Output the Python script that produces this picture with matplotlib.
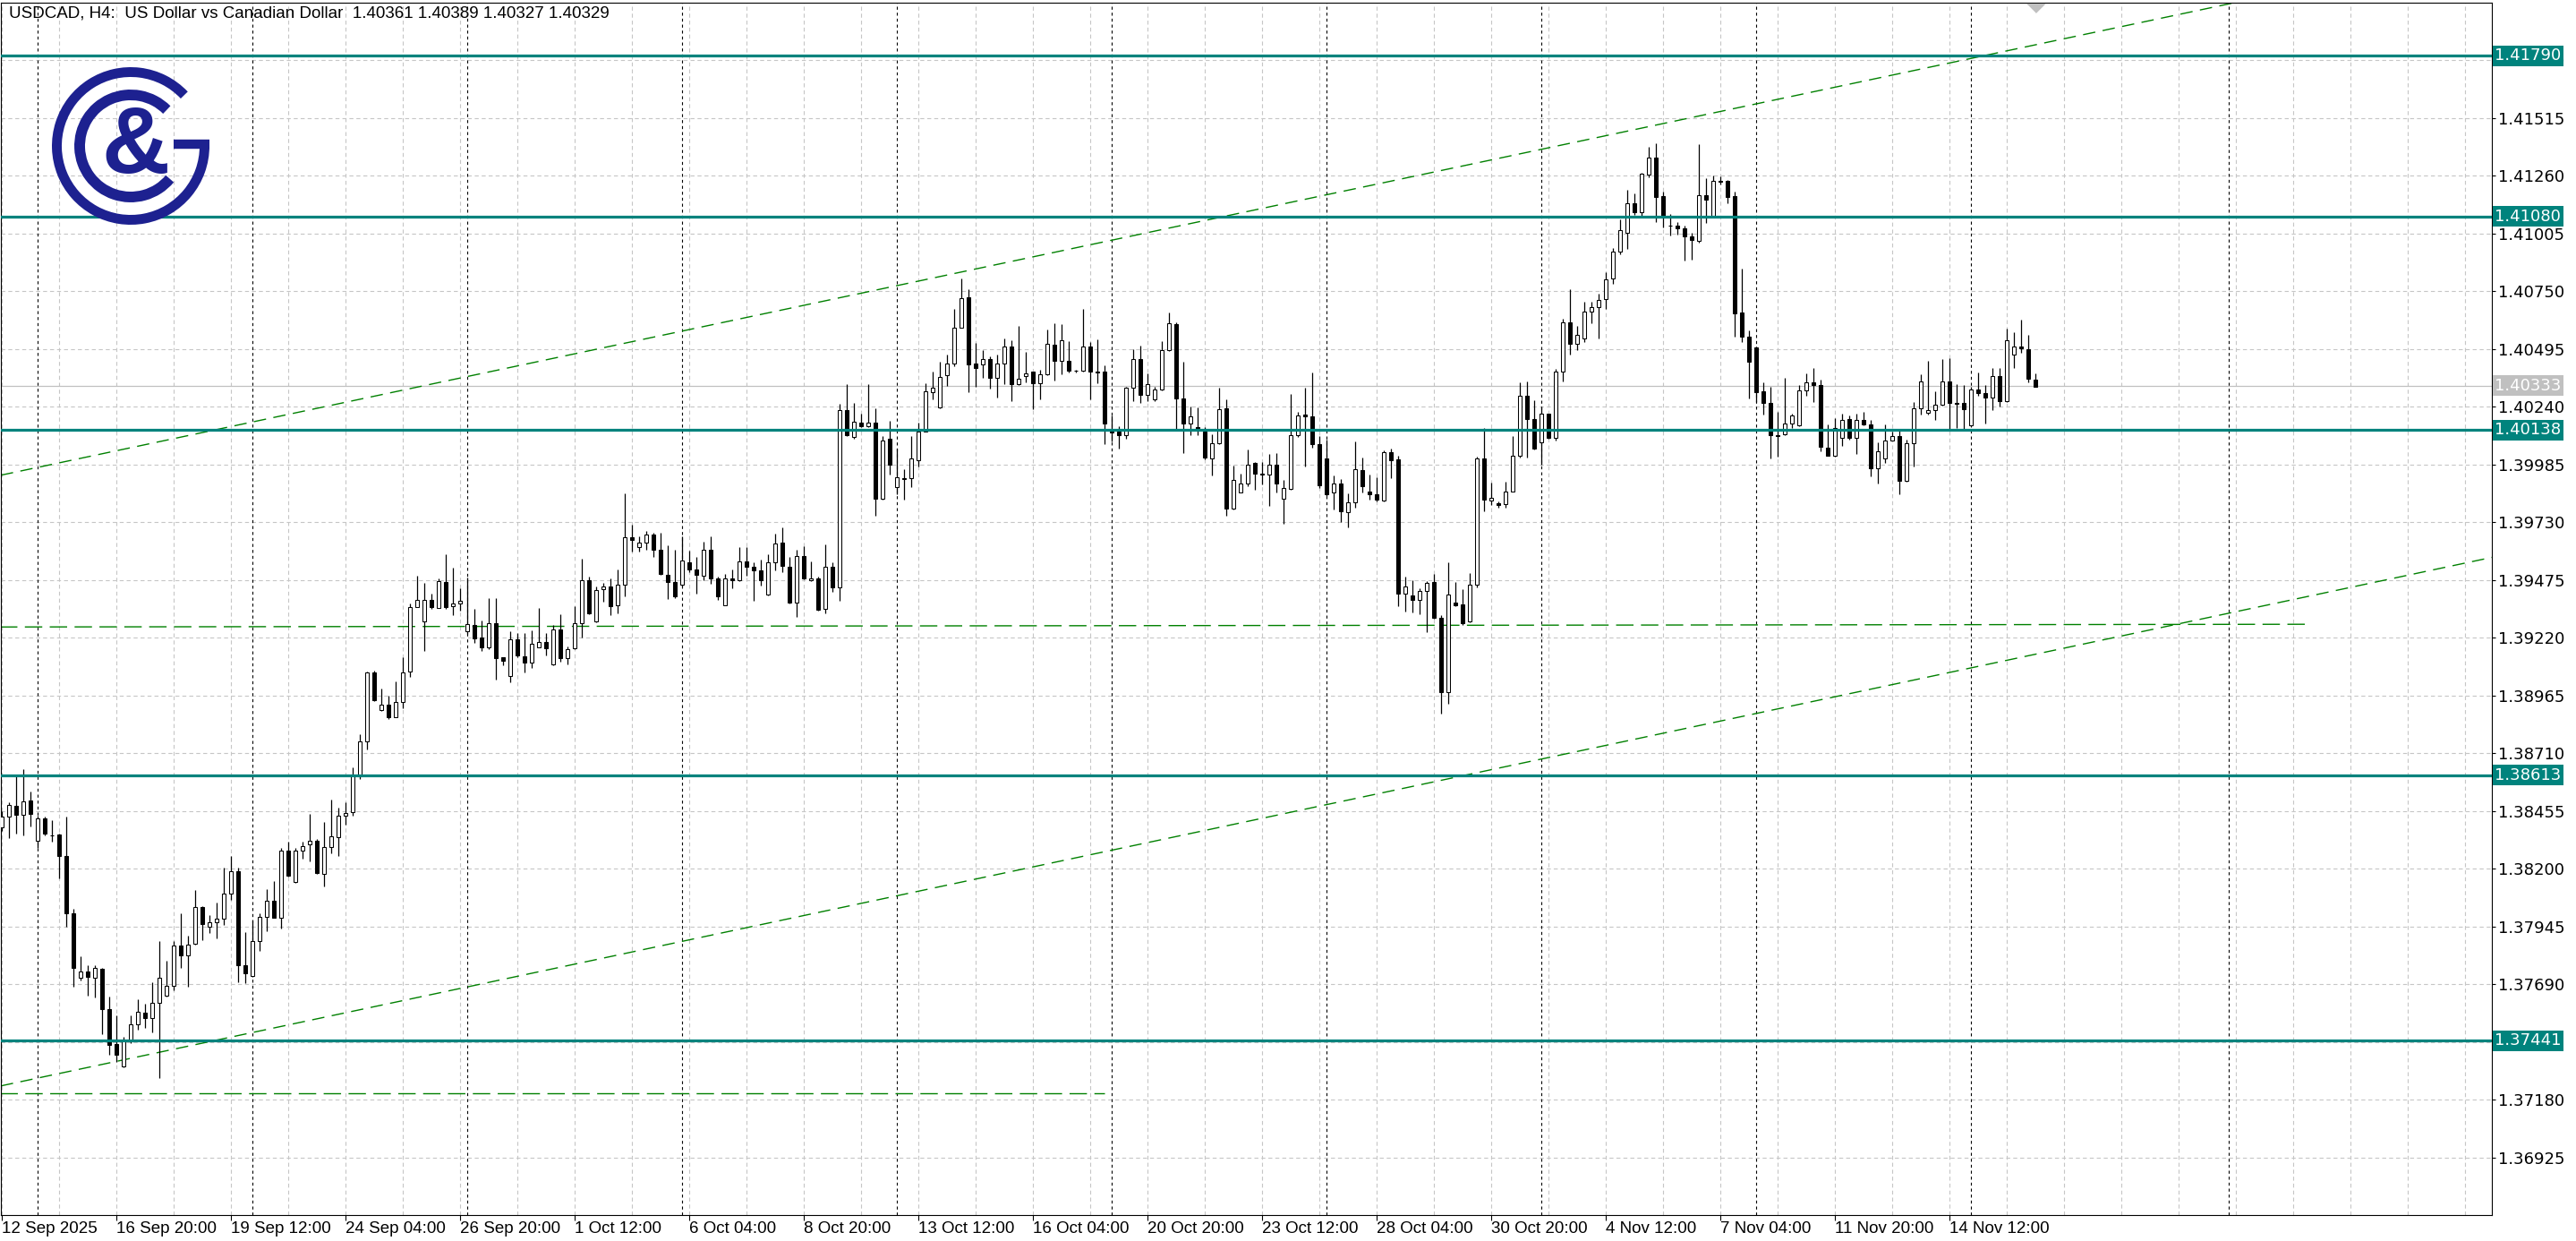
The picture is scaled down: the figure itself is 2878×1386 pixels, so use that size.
import matplotlib
matplotlib.use("Agg")
import matplotlib.pyplot as plt
from matplotlib.patches import Arc
from matplotlib.transforms import blended_transform_factory
import numpy as np

W, H = 2878, 1386
DPI = 100

title = "USDCAD, H4:  US Dollar vs Canadian Dollar  1.40361 1.40389 1.40327 1.40329"

# H4 candles (bar 0 = 12 Sep 2025 04:00)
opens = [
    1.38383, 1.38431, 1.38479, 1.38439, 1.38504, 1.38324, 1.38423, 1.38349, 1.38353, 1.38259,
    1.38003, 1.37720, 1.37747, 1.37720, 1.37760, 1.37580, 1.37425, 1.37330, 1.37437, 1.37514,
    1.37565, 1.37540, 1.37609, 1.37641, 1.37685, 1.37861, 1.37819, 1.37871, 1.38030, 1.37945,
    1.37963, 1.37980, 1.38091, 1.38190, 1.37775, 1.37727, 1.37880, 1.37989, 1.38058, 1.37986,
    1.38282, 1.38142, 1.38282, 1.38309, 1.38324, 1.38177, 1.38296, 1.38339, 1.38435, 1.38450,
    1.38607, 1.38764, 1.39066, 1.38900, 1.38927, 1.38871, 1.38936, 1.39070, 1.39356, 1.39291,
    1.39389, 1.39352, 1.39467, 1.39358, 1.39370, 1.39251, 1.39276, 1.39223, 1.39177, 1.39286,
    1.39133, 1.39051, 1.39215, 1.39138, 1.39110, 1.39177, 1.39203, 1.39103, 1.39259, 1.39130,
    1.39174, 1.39283, 1.39474, 1.39294, 1.39434, 1.39446, 1.39363, 1.39456, 1.39663, 1.39619,
    1.39640, 1.39676, 1.39610, 1.39499, 1.39467, 1.39456, 1.39555, 1.39523, 1.39496, 1.39610,
    1.39483, 1.39363, 1.39483, 1.39476, 1.39559, 1.39534, 1.39516, 1.39410, 1.39554, 1.39640,
    1.39534, 1.39374, 1.39580, 1.39474, 1.39483, 1.39347, 1.39532, 1.39443, 1.40225, 1.40106,
    1.40171, 1.40153, 1.40169, 1.39833, 1.40098, 1.39887, 1.39927, 1.39927, 1.40006, 1.40132,
    1.40306, 1.40236, 1.40378, 1.40433, 1.40591, 1.40722, 1.40431, 1.40426, 1.40449, 1.40366,
    1.40430, 1.40508, 1.40339, 1.40376, 1.40394, 1.40343, 1.40383, 1.40513, 1.40444, 1.40442,
    1.40398, 1.40398, 1.40506, 1.40394, 1.40396, 1.40132, 1.40132, 1.40113, 1.40323, 1.40451,
    1.40291, 1.40274, 1.40316, 1.40490, 1.40605, 1.40276, 1.40168, 1.40149, 1.40132, 1.40013,
    1.40079, 1.40233, 1.39790, 1.39863, 1.39903, 1.39991, 1.39945, 1.39939, 1.39985, 1.39833,
    1.39879, 1.40113, 1.40205, 1.40197, 1.40076, 1.40014, 1.39860, 1.39902, 1.39774, 1.39818,
    1.39962, 1.39866, 1.39853, 1.39827, 1.40041, 1.40007, 1.39416, 1.39406, 1.39389, 1.39426,
    1.39466, 1.39310, 1.38979, 1.39377, 1.39367, 1.39291, 1.39456, 1.40014, 1.39827, 1.39814,
    1.39811, 1.39866, 1.40024, 1.40287, 1.40185, 1.40083, 1.40208, 1.40103, 1.40397, 1.40614,
    1.40518, 1.40541, 1.40660, 1.40680, 1.40715, 1.40805, 1.40926, 1.41009, 1.41139, 1.41101,
    1.41264, 1.41341, 1.41170, 1.41040, 1.41040, 1.41027, 1.40992, 1.40972, 1.41173, 1.41084,
    1.41236, 1.41238, 1.41170, 1.40656, 1.40548, 1.40502, 1.40307, 1.40257, 1.40114, 1.40120,
    1.40168, 1.40158, 1.40314, 1.40349, 1.40336, 1.40060, 1.40024, 1.40103, 1.40185, 1.40103,
    1.40182, 1.40162, 1.39968, 1.40013, 1.40093, 1.40110, 1.39912, 1.40080, 1.40235, 1.40213,
    1.40226, 1.40248, 1.40353, 1.40257, 1.40257, 1.40158, 1.40316, 1.40301, 1.40281, 1.40377,
    1.40265, 1.40472, 1.40505, 1.40496, 1.40361,
]
highs = [
    1.38454, 1.38496, 1.38607, 1.38640, 1.38540, 1.38435, 1.38431, 1.38416, 1.38355, 1.38431,
    1.38024, 1.37813, 1.37775, 1.37775, 1.37762, 1.37636, 1.37555, 1.37460, 1.37552, 1.37626,
    1.37603, 1.37699, 1.37880, 1.37794, 1.37880, 1.38005, 1.37905, 1.38106, 1.38037, 1.37995,
    1.38052, 1.38205, 1.38257, 1.38205, 1.37922, 1.37972, 1.38005, 1.38110, 1.38148, 1.38294,
    1.38320, 1.38292, 1.38320, 1.38444, 1.38334, 1.38406, 1.38506, 1.38469, 1.38496, 1.38649,
    1.38794, 1.39070, 1.39074, 1.38995, 1.38966, 1.39028, 1.39133, 1.39372, 1.39496, 1.39462,
    1.39414, 1.39483, 1.39588, 1.39529, 1.39439, 1.39486, 1.39349, 1.39295, 1.39396, 1.39394,
    1.39133, 1.39248, 1.39242, 1.39242, 1.39253, 1.39350, 1.39241, 1.39276, 1.39323, 1.39183,
    1.39360, 1.39570, 1.39492, 1.39446, 1.39463, 1.39483, 1.39523, 1.39859, 1.39720, 1.39667,
    1.39692, 1.39683, 1.39683, 1.39627, 1.39610, 1.39669, 1.39606, 1.39576, 1.39643, 1.39669,
    1.39489, 1.39503, 1.39520, 1.39619, 1.39619, 1.39552, 1.39566, 1.39589, 1.39680, 1.39709,
    1.39576, 1.39607, 1.39623, 1.39556, 1.39489, 1.39632, 1.39552, 1.40252, 1.40342, 1.40258,
    1.40209, 1.40342, 1.40232, 1.40109, 1.40180, 1.40056, 1.39963, 1.40109, 1.40172, 1.40345,
    1.40395, 1.40439, 1.40471, 1.40671, 1.40806, 1.40758, 1.40522, 1.40489, 1.40462, 1.40469,
    1.40540, 1.40532, 1.40599, 1.40481, 1.40394, 1.40402, 1.40580, 1.40607, 1.40605, 1.40530,
    1.40405, 1.40672, 1.40527, 1.40536, 1.40422, 1.40201, 1.40155, 1.40329, 1.40493, 1.40510,
    1.40388, 1.40329, 1.40530, 1.40658, 1.40611, 1.40438, 1.40241, 1.40238, 1.40149, 1.40118,
    1.40323, 1.40271, 1.39982, 1.39945, 1.40050, 1.39998, 1.39998, 1.40030, 1.40034, 1.39919,
    1.40297, 1.40218, 1.40323, 1.40392, 1.40112, 1.40096, 1.39935, 1.39922, 1.39857, 1.40086,
    1.40015, 1.39941, 1.39929, 1.40048, 1.40057, 1.40024, 1.39492, 1.39475, 1.39439, 1.39472,
    1.39502, 1.39321, 1.39555, 1.39465, 1.39436, 1.39508, 1.40018, 1.40146, 1.39906, 1.39823,
    1.39910, 1.40112, 1.40347, 1.40353, 1.40270, 1.40241, 1.40211, 1.40406, 1.40630, 1.40759,
    1.40599, 1.40702, 1.40702, 1.40741, 1.40834, 1.40939, 1.41067, 1.41196, 1.41183, 1.41272,
    1.41387, 1.41404, 1.41189, 1.41093, 1.41055, 1.41038, 1.41008, 1.41400, 1.41248, 1.41262,
    1.41258, 1.41242, 1.41189, 1.40851, 1.40577, 1.40505, 1.40349, 1.40327, 1.40218, 1.40366,
    1.40208, 1.40336, 1.40386, 1.40412, 1.40360, 1.40162, 1.40189, 1.40208, 1.40202, 1.40208,
    1.40218, 1.40182, 1.40083, 1.40162, 1.40132, 1.40136, 1.40097, 1.40261, 1.40382, 1.40443,
    1.40307, 1.40452, 1.40456, 1.40340, 1.40336, 1.40330, 1.40393, 1.40336, 1.40410, 1.40410,
    1.40584, 1.40570, 1.40623, 1.40557, 1.40389,
]
lows = [
    1.38368, 1.38336, 1.38355, 1.38349, 1.38387, 1.38292, 1.38349, 1.38320, 1.38158, 1.37944,
    1.37678, 1.37708, 1.37641, 1.37632, 1.37469, 1.37380, 1.37349, 1.37326, 1.37431, 1.37492,
    1.37498, 1.37479, 1.37278, 1.37636, 1.37664, 1.37762, 1.37680, 1.37867, 1.37884, 1.37919,
    1.37894, 1.37953, 1.38062, 1.37699, 1.37697, 1.37722, 1.37838, 1.37924, 1.37984, 1.37938,
    1.38167, 1.38139, 1.38244, 1.38234, 1.38177, 1.38123, 1.38269, 1.38257, 1.38397, 1.38435,
    1.38597, 1.38727, 1.38941, 1.38898, 1.38860, 1.38869, 1.38909, 1.39047, 1.39354, 1.39161,
    1.39348, 1.39350, 1.39348, 1.39320, 1.39339, 1.39238, 1.39196, 1.39161, 1.39171, 1.39035,
    1.39100, 1.39024, 1.39133, 1.39066, 1.39089, 1.39177, 1.39143, 1.39099, 1.39116, 1.39103,
    1.39172, 1.39223, 1.39323, 1.39290, 1.39379, 1.39319, 1.39330, 1.39403, 1.39599, 1.39599,
    1.39610, 1.39576, 1.39499, 1.39390, 1.39397, 1.39446, 1.39509, 1.39416, 1.39476, 1.39460,
    1.39387, 1.39363, 1.39440, 1.39470, 1.39494, 1.39383, 1.39450, 1.39406, 1.39516, 1.39510,
    1.39370, 1.39312, 1.39480, 1.39470, 1.39342, 1.39330, 1.39423, 1.39383, 1.40111, 1.40098,
    1.40149, 1.40149, 1.39759, 1.39829, 1.39942, 1.39853, 1.39829, 1.39887, 1.39976, 1.40129,
    1.40273, 1.40233, 1.40333, 1.40418, 1.40589, 1.40305, 1.40329, 1.40369, 1.40319, 1.40282,
    1.40339, 1.40267, 1.40336, 1.40348, 1.40228, 1.40271, 1.40379, 1.40356, 1.40383, 1.40392,
    1.40392, 1.40394, 1.40274, 1.40346, 1.40076, 1.40086, 1.40054, 1.40100, 1.40267, 1.40258,
    1.40267, 1.40267, 1.40313, 1.40488, 1.40142, 1.40034, 1.40116, 1.40116, 1.40009, 1.39938,
    1.40076, 1.39761, 1.39788, 1.39862, 1.39888, 1.39873, 1.39897, 1.39801, 1.39862, 1.39722,
    1.39875, 1.40107, 1.39978, 1.40061, 1.39882, 1.39847, 1.39788, 1.39731, 1.39708, 1.39794,
    1.39860, 1.39829, 1.39823, 1.39824, 1.39925, 1.39360, 1.39337, 1.39334, 1.39325, 1.39245,
    1.39304, 1.38887, 1.38929, 1.39360, 1.39278, 1.39288, 1.39442, 1.39778, 1.39807, 1.39794,
    1.39794, 1.39864, 1.40017, 1.40015, 1.40052, 1.39985, 1.40099, 1.40090, 1.40351, 1.40472,
    1.40489, 1.40524, 1.40610, 1.40540, 1.40672, 1.40781, 1.40913, 1.40936, 1.41088, 1.41084,
    1.41255, 1.41055, 1.41031, 1.40998, 1.41001, 1.40886, 1.40890, 1.40965, 1.41051, 1.41082,
    1.41222, 1.41137, 1.40550, 1.40524, 1.40277, 1.40261, 1.40205, 1.40011, 1.40018, 1.40116,
    1.40145, 1.40156, 1.40287, 1.40261, 1.40044, 1.40022, 1.40021, 1.40066, 1.40097, 1.40031,
    1.40158, 1.39932, 1.39902, 1.39991, 1.40090, 1.39853, 1.39908, 1.39978, 1.40205, 1.40205,
    1.40182, 1.40244, 1.40143, 1.40145, 1.40143, 1.40156, 1.40287, 1.40165, 1.40224, 1.40241,
    1.40261, 1.40412, 1.40478, 1.40349, 1.40327,
]
closes = [
    1.38431, 1.38483, 1.38439, 1.38500, 1.38443, 1.38425, 1.38355, 1.38347, 1.38259, 1.38003,
    1.37762, 1.37747, 1.37722, 1.37762, 1.37580, 1.37422, 1.37380, 1.37437, 1.37514, 1.37571,
    1.37540, 1.37609, 1.37720, 1.37685, 1.37861, 1.37819, 1.37865, 1.38030, 1.37957, 1.37966,
    1.37980, 1.38091, 1.38190, 1.37775, 1.37741, 1.37880, 1.37989, 1.38058, 1.37986, 1.38282,
    1.38171, 1.38282, 1.38301, 1.38324, 1.38183, 1.38296, 1.38343, 1.38435, 1.38448, 1.38607,
    1.38764, 1.39066, 1.38945, 1.38927, 1.38871, 1.38938, 1.39066, 1.39356, 1.39389, 1.39389,
    1.39356, 1.39471, 1.39356, 1.39370, 1.39385, 1.39280, 1.39219, 1.39177, 1.39286, 1.39129,
    1.39119, 1.39215, 1.39142, 1.39110, 1.39194, 1.39203, 1.39174, 1.39259, 1.39130, 1.39170,
    1.39283, 1.39474, 1.39327, 1.39430, 1.39446, 1.39359, 1.39456, 1.39663, 1.39653, 1.39640,
    1.39676, 1.39607, 1.39503, 1.39467, 1.39403, 1.39560, 1.39520, 1.39500, 1.39610, 1.39483,
    1.39403, 1.39483, 1.39476, 1.39559, 1.39532, 1.39516, 1.39474, 1.39554, 1.39636, 1.39536,
    1.39374, 1.39580, 1.39483, 1.39483, 1.39346, 1.39532, 1.39443, 1.40225, 1.40113, 1.40173,
    1.40153, 1.40169, 1.39833, 1.40092, 1.39985, 1.39929, 1.39920, 1.40012, 1.40132, 1.40309,
    1.40326, 1.40373, 1.40433, 1.40591, 1.40718, 1.40429, 1.40411, 1.40449, 1.40369, 1.40433,
    1.40508, 1.40339, 1.40365, 1.40389, 1.40343, 1.40383, 1.40517, 1.40444, 1.40532, 1.40398,
    1.40398, 1.40506, 1.40394, 1.40392, 1.40168, 1.40125, 1.40113, 1.40323, 1.40451, 1.40291,
    1.40339, 1.40316, 1.40490, 1.40607, 1.40276, 1.40168, 1.40197, 1.40142, 1.40015, 1.40079,
    1.40230, 1.39790, 1.39916, 1.39903, 1.39985, 1.39944, 1.39939, 1.39985, 1.39902, 1.39882,
    1.40115, 1.40201, 1.40197, 1.40074, 1.39893, 1.39853, 1.39902, 1.39778, 1.39818, 1.39965,
    1.39889, 1.39853, 1.39829, 1.40041, 1.40004, 1.39416, 1.39448, 1.39389, 1.39426, 1.39463,
    1.39308, 1.38979, 1.39413, 1.39364, 1.39284, 1.39456, 1.40014, 1.39829, 1.39837, 1.39807,
    1.39866, 1.40024, 1.40287, 1.40185, 1.40054, 1.40211, 1.40103, 1.40397, 1.40614, 1.40518,
    1.40557, 1.40660, 1.40680, 1.40711, 1.40801, 1.40926, 1.41021, 1.41139, 1.41101, 1.41268,
    1.41341, 1.41167, 1.41084, 1.41040, 1.41027, 1.40992, 1.40976, 1.41173, 1.41156, 1.41238,
    1.41235, 1.41167, 1.40652, 1.40548, 1.40439, 1.40305, 1.40257, 1.40114, 1.40112, 1.40168,
    1.40202, 1.40314, 1.40349, 1.40336, 1.40064, 1.40024, 1.40145, 1.40182, 1.40103, 1.40182,
    1.40162, 1.39968, 1.40044, 1.40093, 1.40110, 1.39912, 1.40080, 1.40235, 1.40353, 1.40226,
    1.40248, 1.40353, 1.40257, 1.40252, 1.40228, 1.40316, 1.40301, 1.40281, 1.40377, 1.40265,
    1.40535, 1.40505, 1.40498, 1.40362, 1.40329,
]

# time axis labels, one every 16 bars
x_labels = ["12 Sep 2025", "16 Sep 20:00", "19 Sep 12:00", "24 Sep 04:00", "26 Sep 20:00",
            "1 Oct 12:00", "6 Oct 04:00", "8 Oct 20:00", "13 Oct 12:00", "16 Oct 04:00",
            "20 Oct 20:00", "23 Oct 12:00", "28 Oct 04:00", "30 Oct 20:00", "4 Nov 12:00",
            "7 Nov 04:00", "11 Nov 20:00", "14 Nov 12:00"]
week_starts = [5, 35, 65, 95, 125, 155, 185, 215, 245, 275, 311]

y_ticks = [1.36925, 1.37180, 1.37435, 1.37690, 1.37945, 1.38200, 1.38455, 1.38710, 1.38965,
           1.39220, 1.39475, 1.39730, 1.39985, 1.40240, 1.40495, 1.40750, 1.41005, 1.41260,
           1.41515, 1.41770]
hidden_ticks = [1.37435]   # sits under the 1.37441 box on the original

levels = [1.41790, 1.41080, 1.40138, 1.38613, 1.37441]
bid = 1.40333

# drawn objects: (bar, price) anchor pairs
channel_top = [(0, 1.39939), (300, 1.41945)]
channel_bottom = [(0, 1.37243), (300, 1.39255)]
hline_mid = [(-0.25, 1.39268), (322, 1.39280)]
hline_low = [(-0.25, 1.37210), (154, 1.37210)]

TEAL = "#00837d"
GREEN = "#008000"
GRID = "#c6c6c6"
NAVY = "#1d2190"
sans = ["Liberation Sans", "DejaVu Sans"]

fig = plt.figure(figsize=(W / DPI, H / DPI), dpi=DPI)
ax = fig.add_axes([1 / W, 29 / H, 2783 / W, 1354 / H])
ax.set_xlim(-0.125, 347.75)
ax.set_ylim(1.36672, 1.42024)

n = len(opens)
xs = np.arange(n)
o = np.array(opens)
c = np.array(closes)

# grid
ax.set_yticks(y_ticks)
ax.set_yticklabels(["" if v in hidden_ticks else f"{v:.5f}" for v in y_ticks])
ax.set_xticks(np.arange(0, 16 * len(x_labels), 16))
ax.set_xticklabels(x_labels)
ax.set_xticks(np.arange(8, 348, 8), minor=True)
ax.grid(True, which="both", axis="x", color=GRID, ls=(0, (4, 3)), lw=0.8)
ax.grid(True, which="major", axis="y", color=GRID, ls=(0, (4, 3)), lw=0.8)
ax.set_axisbelow(True)

for b in week_starts:
    ax.axvline(b, color="black", ls=(0, (3, 3)), lw=0.8, zorder=1)

# candles
ax.vlines(xs, lows, highs, color="black", lw=0.9, zorder=3)
body_lo = np.minimum(o, c)
body_h = np.maximum(np.abs(c - o), 0.00001)
fills = ["white" if cc >= oo else "black" for oo, cc in zip(o, c)]
ax.bar(xs, body_h, bottom=body_lo, width=0.62, color=fills, edgecolor="black",
       linewidth=0.75, zorder=4)

# levels
for lv in levels:
    ax.axhline(lv, color=TEAL, lw=2.3, zorder=5)
ax.axhline(bid, color="#c0c0c0", lw=0.9, zorder=2)

# trend lines
ax.axline(channel_top[0], channel_top[1], color=GREEN, lw=1.0, ls=(0, (10, 6)), zorder=2)
ax.axline(channel_bottom[0], channel_bottom[1], color=GREEN, lw=1.0, ls=(0, (10, 6)), zorder=2)
for seg in (hline_mid, hline_low):
    ax.plot([seg[0][0], seg[1][0]], [seg[0][1], seg[1][1]], color=GREEN, lw=1.0,
            ls=(0, (14, 6)), zorder=2)

# axis styling
ax.yaxis.tick_right()
ax.tick_params(axis="y", which="major", length=3, width=0.8, pad=2, labelsize=13,
               labelcolor="black")
ax.tick_params(axis="x", which="major", length=4, width=0.8, pad=1, labelsize=13.5)
ax.tick_params(axis="x", which="minor", length=0)
for lbl in ax.get_xticklabels():
    lbl.set_horizontalalignment("left")
    lbl.set_family(sans)
for s in ax.spines.values():
    s.set_linewidth(0.8)
    s.set_color("black")

# price boxes on the right scale
tr = blended_transform_factory(ax.transAxes, ax.transData)
for lv in levels:
    ax.text(1.0012, lv, f"{lv:.5f}", transform=tr, ha="left", va="center", fontsize=13,
            color="white", zorder=10, clip_on=False,
            bbox=dict(boxstyle="square,pad=0.14", fc=TEAL, ec="none"))
ax.text(1.0012, bid, f"{bid:.5f}", transform=tr, ha="left", va="center", fontsize=13,
        color="white", zorder=10, clip_on=False,
        bbox=dict(boxstyle="square,pad=0.14", fc="#c0c0c0", ec="none"))

# chart shift marker above the last bar
trx = blended_transform_factory(ax.transData, ax.transAxes)
ax.plot([n - 1], [0.9955], transform=trx, marker=[(-1, 0.5), (1, 0.5), (0, -0.5)],
        ms=14, color="#c0c0c0", clip_on=False, zorder=6)

fig.text(10 / W, 1 - 6 / H, title, ha="left", va="top", fontsize=13.5, family=sans)

# logo
axl = fig.add_axes([40 / W, 1 - 270 / H, 220 / W, 210 / H])
axl.set_xlim(40, 260)
axl.set_ylim(-270, -60)
axl.axis("off")
axl.add_patch(Arc((146, -163), 165, 165, theta1=43.5, theta2=360, lw=7.9, color=NAVY))
axl.add_patch(Arc((146, -163), 114, 114, theta1=45, theta2=320, lw=8.6, color=NAVY))
axl.plot([194, 234], [-161, -161], color=NAVY, lw=7.5, solid_capstyle="butt")
axl.text(151, -166, "&", ha="center", va="center", fontsize=76, fontweight="bold",
         color=NAVY, family=sans)

fig.savefig("out.png", dpi=DPI)
